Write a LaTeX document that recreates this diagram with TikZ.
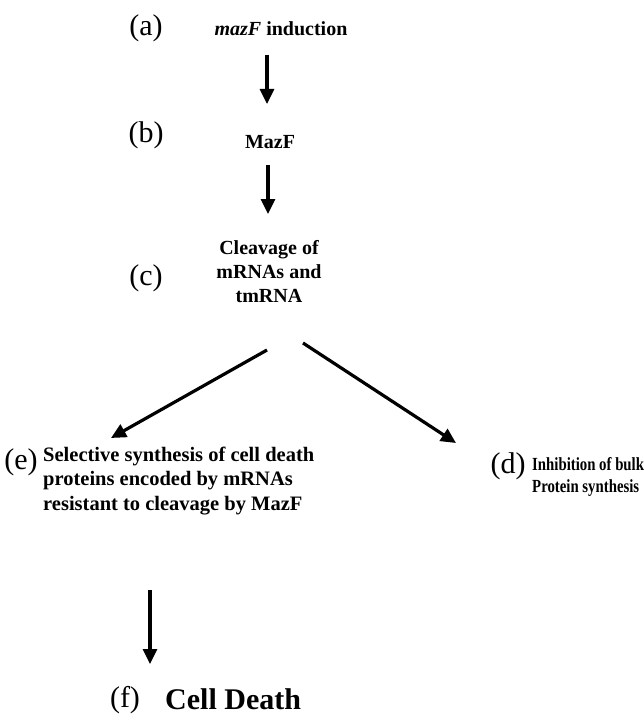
\documentclass[tikz,border=0pt]{standalone}
\usepackage{fontspec}
\setmainfont{Liberation Serif}
\newfontfamily\narrowserif[FakeStretch=0.8]{Liberation Serif}
\usetikzlibrary{arrows.meta}
\begin{document}
\begin{tikzpicture}[x=1pt,y=-1pt,
  lbl/.style={font=\fontsize{30}{32}\selectfont, inner sep=0pt},
  txt/.style={font=\fontsize{20}{24}\selectfont\bfseries, inner sep=0pt},
  arr/.style={line width=3.2pt, -{Triangle[length=15pt,width=14pt]}}]
\useasboundingbox[fill=white] (0,0) rectangle (644,722);
\node[lbl] (la) at (146,28) {(a)};
\node[txt] (na) at (281,29) {\textit{mazF} induction};
\node[lbl] (lb) at (146,135) {(b)};
\node[txt] (nb) at (270,142) {MazF};
\node[lbl] (lc) at (146,278) {(c)};
\node[txt, align=center] (nc) at (269,272) {Cleavage of\\mRNAs and\\tmRNA};
\node[lbl] (le) at (21,462) {(e)};
\node[txt, align=left, anchor=west, font=\fontsize{20.5}{24.5}\selectfont\bfseries] (ne) at (43,481) {Selective synthesis of cell death\\proteins encoded by mRNAs\\resistant to cleavage by MazF};
\node[lbl] (ld) at (508,466) {(d)};
\node[txt, align=left, anchor=west, font=\fontsize{18.5}{22}\narrowserif\bfseries] (nd) at (532,477) {Inhibition of bulk\\Protein synthesis};
\node[lbl] (lf) at (125,700) {(f)};
\node[txt, anchor=west, font=\fontsize{30}{32}\selectfont\bfseries] (nf) at (165,699) {Cell Death};
\coordinate (a1) at (267,55);  \coordinate (a2) at (267,104);
\coordinate (b1) at (268,165); \coordinate (b2) at (268,214);
\coordinate (c1) at (267,350); \coordinate (c2) at (111,438);
\coordinate (c3) at (303,343); \coordinate (c4) at (456,443);
\coordinate (e1) at (150,590); \coordinate (e2) at (150,664);
\draw[arr] (a1) -- (a2);
\draw[arr] (b1) -- (b2);
\draw[arr] (c1) -- (c2);
\draw[arr] (c3) -- (c4);
\draw[arr] (e1) -- (e2);
\end{tikzpicture}
\end{document}
